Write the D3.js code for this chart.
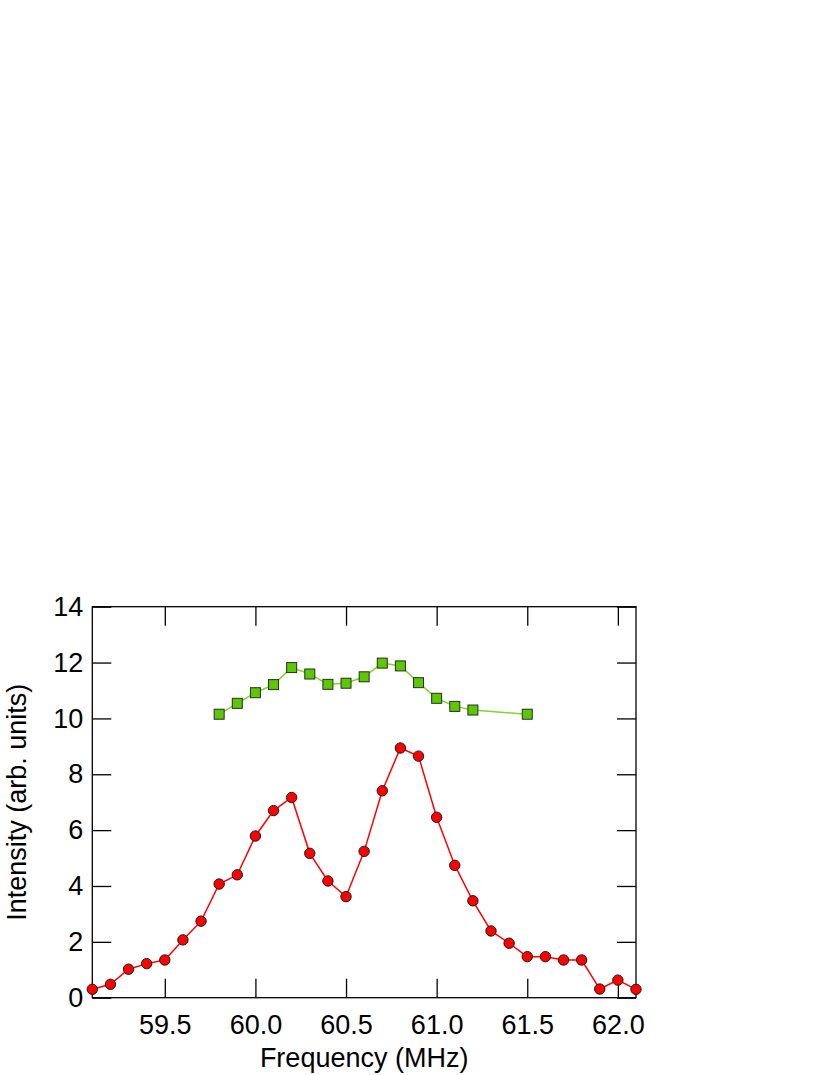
<!DOCTYPE html>
<html><head><meta charset="utf-8">
<script src="https://cdn.jsdelivr.net/npm/d3@7"></script>
<style>html,body{margin:0;padding:0;background:#fff;}</style>
</head><body>
<script>
const redFreq = [59.1,59.2,59.3,59.4,59.5,59.6,59.7,59.8,59.9,60.0,60.1,60.2,60.3,60.4,60.5,60.6,60.7,60.8,60.9,61.0,61.1,61.2,61.3,61.4,61.5,61.6,61.7,61.8,61.9,62.0,62.1];
const redIntensity = [0.30,0.48,1.02,1.22,1.35,2.07,2.74,4.07,4.40,5.79,6.70,7.17,5.17,4.18,3.62,5.24,7.41,8.94,8.65,6.46,4.74,3.47,2.39,1.95,1.47,1.47,1.35,1.35,0.31,0.63,0.30];
const greenFreq = [59.8,59.9,60.0,60.1,60.2,60.3,60.4,60.5,60.6,60.7,60.8,60.9,61.0,61.1,61.2,61.5];
const greenIntensity = [10.15,10.54,10.92,11.21,11.82,11.59,11.22,11.26,11.49,11.98,11.88,11.28,10.72,10.43,10.30,10.15];
const xTicks = [59.5,60.0,60.5,61.0,61.5,62.0];
const yTicks = [0,2,4,6,8,10,12,14];
const xLabel = "Frequency (MHz)";
const yLabel = "Intensity (arb. units)";

const W = 830, H = 1075;
const L = 92.3, R = 636, T = 606.7, B = 997.7;
const svg = d3.select("body").append("svg").attr("width", W).attr("height", H);
const x = d3.scaleLinear().domain([59.1, 62.1]).range([L, R]);
const y = d3.scaleLinear().domain([0, 14]).range([B, T]);
const font = "'Liberation Sans', Arial, Helvetica, sans-serif";
const fs = 27;
const tl = 19;

const axStyle = g => {
  g.select(".domain").remove();
  g.selectAll(".tick line").attr("stroke", "#000").attr("stroke-width", 1.3);
  g.selectAll(".tick text").attr("font-family", font).attr("font-size", fs).attr("fill", "#000");
};

svg.append("g").attr("transform", `translate(0,${B})`)
  .call(d3.axisBottom(x).tickValues(xTicks).tickFormat(d3.format(".1f")).tickSizeInner(-tl).tickPadding(17))
  .call(axStyle);
svg.append("g").attr("transform", `translate(0,${T})`)
  .call(d3.axisTop(x).tickValues(xTicks).tickFormat("").tickSizeInner(-tl))
  .call(axStyle);
svg.append("g").attr("transform", `translate(${L},0)`)
  .call(d3.axisLeft(y).tickValues(yTicks).tickFormat(d3.format("d")).tickSizeInner(-tl).tickPadding(9))
  .call(axStyle);
svg.append("g").attr("transform", `translate(${R},0)`)
  .call(d3.axisRight(y).tickValues(yTicks).tickFormat("").tickSizeInner(-tl))
  .call(axStyle);

svg.append("rect").attr("x", L).attr("y", T).attr("width", R - L).attr("height", B - T)
  .attr("fill", "none").attr("stroke", "#000").attr("stroke-width", 1.3);

const line = d3.line().x(d => x(d[0])).y(d => y(d[1]));
const red = redFreq.map((f, i) => [f, redIntensity[i]]);
const green = greenFreq.map((f, i) => [f, greenIntensity[i]]);

svg.append("path").datum(green).attr("d", line).attr("fill", "none").attr("stroke", "#7fd42e").attr("stroke-width", 1.5);
svg.append("path").datum(red).attr("d", line).attr("fill", "none").attr("stroke", "#ff0000").attr("stroke-width", 1.5);

const s = 10;
svg.append("g").selectAll("rect").data(green).join("rect")
  .attr("x", d => x(d[0]) - s / 2).attr("y", d => y(d[1]) - s / 2)
  .attr("width", s).attr("height", s)
  .attr("fill", "#5cc800").attr("stroke", "#2a2a2a").attr("stroke-width", 1);
svg.append("g").selectAll("circle").data(red).join("circle")
  .attr("cx", d => x(d[0])).attr("cy", d => y(d[1])).attr("r", 5.2)
  .attr("fill", "#ff0000").attr("stroke", "#1a1a1a").attr("stroke-width", 1);

svg.append("text").attr("x", (L + R) / 2).attr("y", 1067).attr("text-anchor", "middle")
  .attr("font-family", font).attr("font-size", fs).text(xLabel);
svg.append("text").attr("transform", `translate(25.5,${(T + B) / 2}) rotate(-90)`).attr("text-anchor", "middle")
  .attr("font-family", font).attr("font-size", fs).text(yLabel);
</script>
</body></html>
